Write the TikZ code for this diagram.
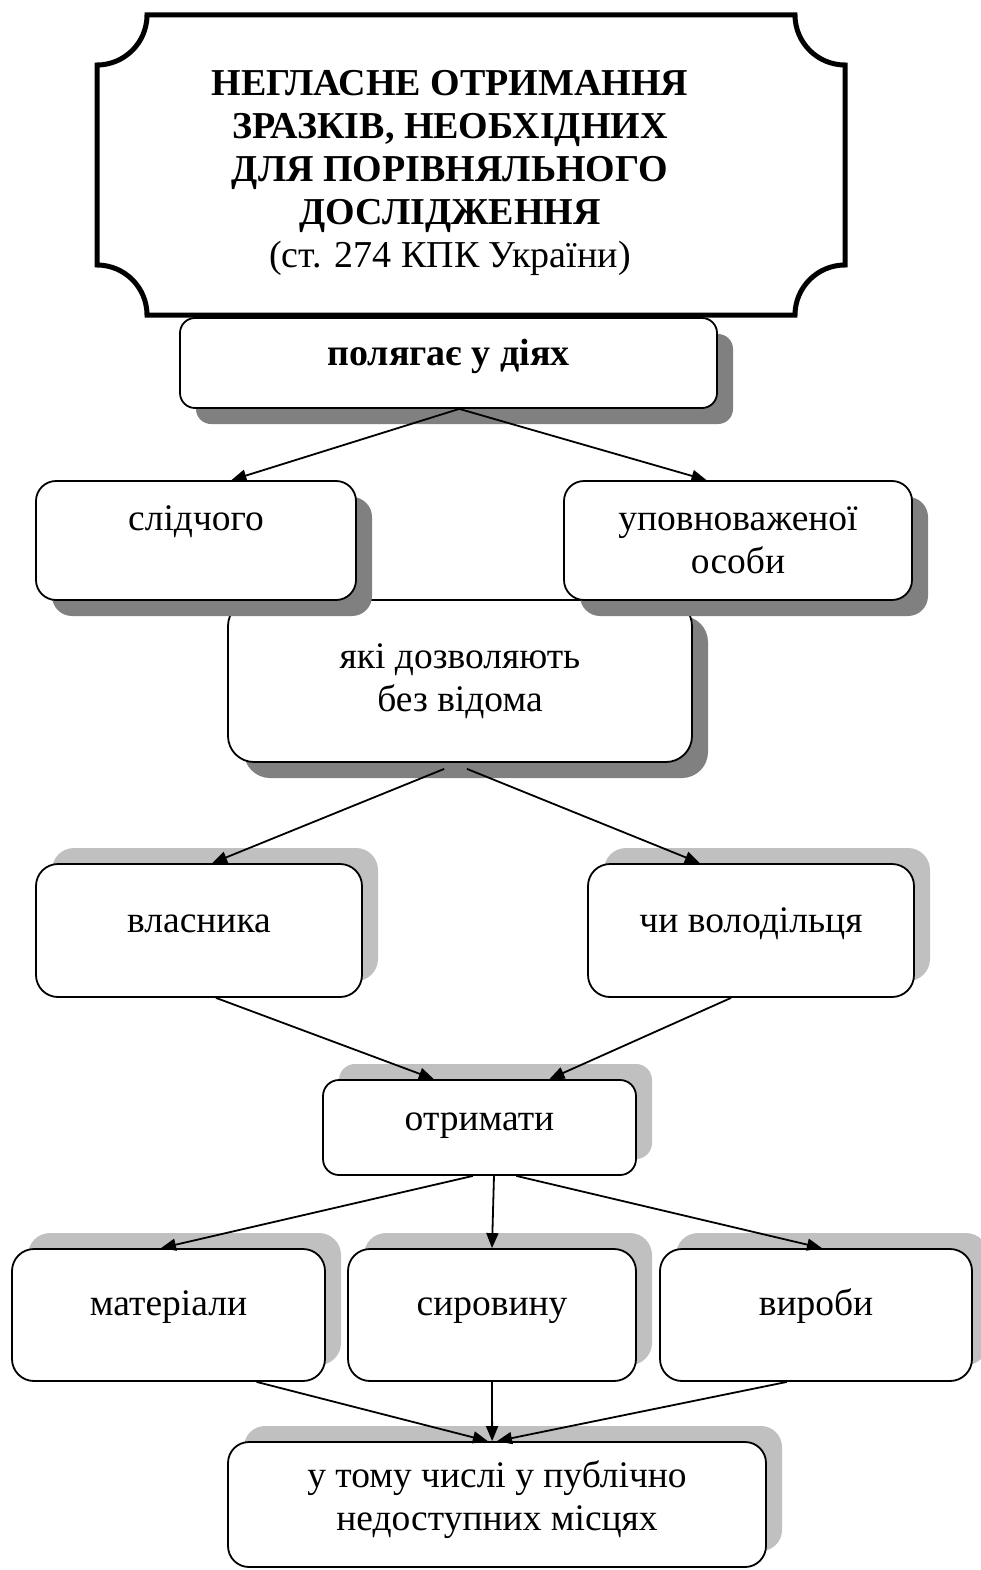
\documentclass[tikz,border=0pt]{standalone}
\usepackage{fontspec}
\setmainfont{Liberation Serif}
\usetikzlibrary{arrows.meta,shadows,calc}
\definecolor{shdark}{HTML}{808080}
\definecolor{shlight}{HTML}{C0C0C0}
\begin{document}
\begin{tikzpicture}[x=1pt,y=1pt,
  bx/.style={draw, fill=white, line width=1.8pt, inner sep=0pt, shape=rectangle},
  dsh/.style={general shadow={fill=shdark, shadow xshift=16pt, shadow yshift=-16pt}},
  lsh/.style={general shadow={fill=shlight, shadow xshift=16pt, shadow yshift=16pt}},
  txt/.style={font=\fontsize{37.5}{43}\selectfont, inner sep=0pt, anchor=base},
  arr/.style={line width=1.8pt, -{Triangle[length=15pt,width=12pt]}}]
\useasboundingbox (0,0) rectangle (980,-1570);

% title box with concave corners
\draw[line width=5pt, fill=white] (147,-15) -- (795,-15)
  arc[start angle=180, end angle=270, radius=50] -- (845,-265)
  arc[start angle=90, end angle=180, radius=50] -- (147,-315)
  arc[start angle=0, end angle=90, radius=50] -- (97,-65)
  arc[start angle=-90, end angle=0, radius=50] -- cycle;
\node[txt, font=\fontsize{38}{43}\selectfont\bfseries] (title) at (450,-96)
  {\begin{tabular}[t]{@{}c@{}}НЕГЛАСНЕ ОТРИМАННЯ\\ЗРАЗКІВ, НЕОБХІДНИХ\\ДЛЯ ПОРІВНЯЛЬНОГО\\ДОСЛІДЖЕННЯ\\\mdseries(ст. 274 КПК України)\end{tabular}};

% boxes
\node[bx, dsh, rounded corners=15pt, minimum width=537pt, minimum height=90pt] (pol) at (448.5,-363) {};
\node[txt, font=\fontsize{38}{43}\selectfont\bfseries] (tpol) at (448.5,-365) {полягає у діях};

\node[bx, dsh, rounded corners=26pt, minimum width=464pt, minimum height=162pt] (yaki) at (460,-681) {};
\node[txt] (tyaki) at (460,-668) {\begin{tabular}[t]{@{}c@{}}які дозволяють\\без відома\end{tabular}};

\node[bx, dsh, rounded corners=20pt, minimum width=320pt, minimum height=119pt] (sl) at (196,-540.5) {};
\node[txt] (tsl) at (196,-530) {слідчого};
\node[bx, dsh, rounded corners=20pt, minimum width=348pt, minimum height=119pt] (up) at (738,-540.5) {};
\node[txt] (tup) at (738,-530) {\begin{tabular}[t]{@{}c@{}}уповноваженої\\особи\end{tabular}};

\node[bx, lsh, rounded corners=22pt, minimum width=326pt, minimum height=133pt] (vl) at (199,-930.5) {};
\node[txt] (tvl) at (199,-932) {власника};
\node[bx, lsh, rounded corners=22pt, minimum width=326pt, minimum height=133pt] (chi) at (751,-930.5) {};
\node[txt] (tchi) at (751,-932) {чи володільця};

\node[bx, lsh, rounded corners=16pt, minimum width=313pt, minimum height=95pt] (otr) at (479.5,-1127.5) {};
\node[txt] (totr) at (479.5,-1130) {отримати};

\node[bx, lsh, rounded corners=22pt, minimum width=313pt, minimum height=132pt] (mat) at (168.5,-1315) {};
\node[txt] (tmat) at (168.5,-1315) {матеріали};
\node[bx, lsh, rounded corners=22pt, minimum width=288pt, minimum height=132pt] (syr) at (492,-1315) {};
\node[txt] (tsyr) at (492,-1315) {сировину};
\node[bx, lsh, rounded corners=22pt, minimum width=312pt, minimum height=132pt] (vyr) at (816,-1315) {};
\node[txt] (tvyr) at (816,-1315) {вироби};

\node[bx, lsh, rounded corners=21pt, minimum width=538pt, minimum height=125pt] (utch) at (497,-1504.5) {};
\node[txt] (tutch) at (497,-1487) {\begin{tabular}[t]{@{}c@{}}у тому числі у публічно\\недоступних місцях\end{tabular}};

% connectors
\draw[arr] ($(pol.south west)!0.52!(pol.south east)$) -- ($(sl.north west)!0.61!(sl.north east)$);
\draw[arr] ($(pol.south west)!0.52!(pol.south east)$) -- ($(up.north west)!0.41!(up.north east)$);

\draw[arr] ($(yaki.south west)!0.466!(yaki.south east)+(0,-6)$) -- ($(vl.north west)!0.54!(vl.north east)$);
\draw[arr] ($(yaki.south west)!0.515!(yaki.south east)+(0,-6)$) -- ($(chi.north west)!0.344!(chi.north east)$);

\draw[arr] ($(vl.south west)!0.552!(vl.south east)$) -- ($(otr.north west)!0.355!(otr.north east)$);
\draw[arr] ($(chi.south west)!0.439!(chi.south east)$) -- ($(otr.north west)!0.722!(otr.north east)$);

\draw[arr] ($(otr.south west)!0.479!(otr.south east)$) -- ($(mat.north west)!0.476!(mat.north east)$);
\draw[arr] ($(otr.south west)!0.546!(otr.south east)$) -- ($(syr.north west)!0.5!(syr.north east)$);
\draw[arr] ($(otr.south west)!0.617!(otr.south east)$) -- ($(vyr.north west)!0.519!(vyr.north east)$);

\draw[arr] ($(mat.south west)!0.78!(mat.south east)$) -- ($(utch.north west)!0.483!(utch.north east)$);
\draw[arr] ($(syr.south west)!0.5!(syr.south east)$) -- ($(utch.north west)!0.491!(utch.north east)$);
\draw[arr] ($(vyr.south west)!0.407!(vyr.south east)$) -- ($(utch.north west)!0.5!(utch.north east)$);
\end{tikzpicture}
\end{document}
